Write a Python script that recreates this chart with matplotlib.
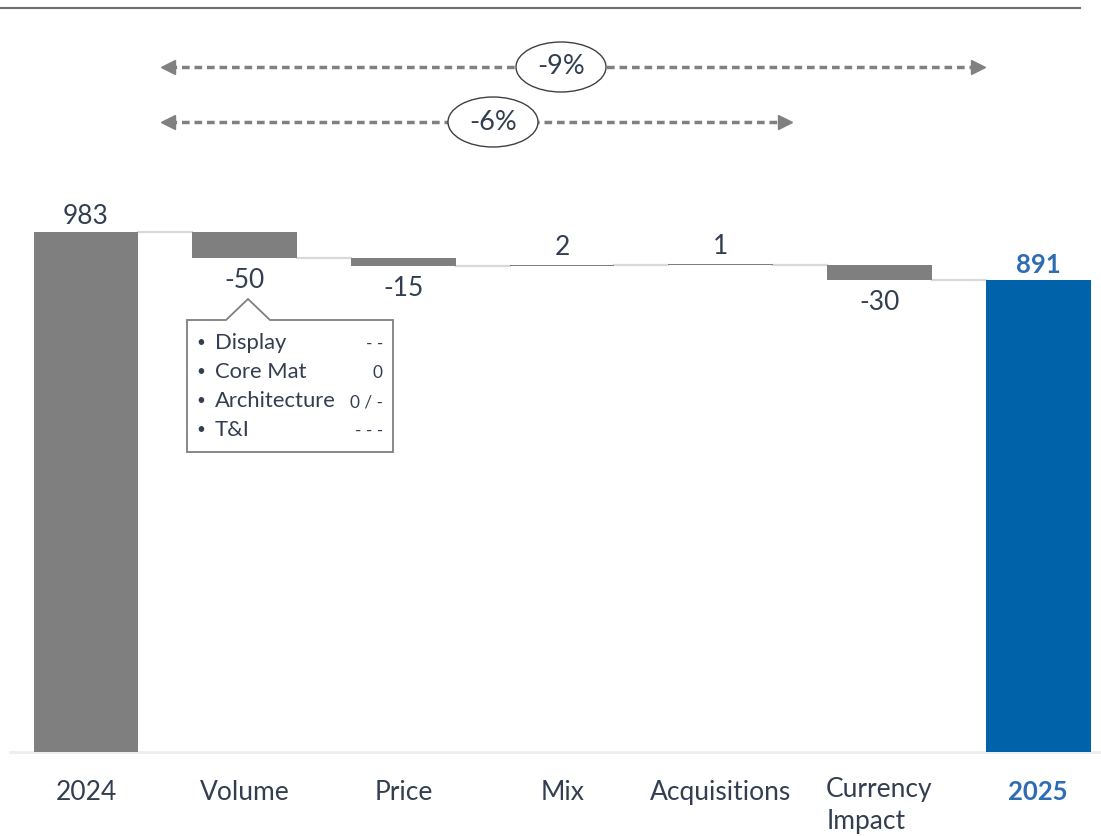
import numpy as np
import matplotlib.pyplot as plt
from matplotlib.patches import Ellipse, Polygon

# data
categories = ['2024', 'Volume', 'Price', 'Mix', 'Acquisitions', 'Currency\nImpact', '2025']
deltas = [983, -50, -15, 2, 1, -30]
labels = ['983', '-50', '-15', '2', '1', '-30', '891']
growth_labels = ['-9%', '-6%']
callout_items = ['Display', 'Core Mat', 'Architecture', 'T&I']
callout_values = ['- -', '0', '0 / -', '- - -']

GREY = '#7F7F7F'
BLUE = '#0063A9'
TXT = '#333F50'
plt.rcParams['font.family'] = ['Lato', 'DejaVu Sans']

W, H = 1101, 836
fig = plt.figure(figsize=(W / 100, H / 100), dpi=100)
ax = fig.add_axes([0, 0, 1, 1])
ax.set_xlim(-0.542, 6.396)
ax.set_ylim(-158.8, 1421)
ax.axis('off')


def px(x, y):
    # pixel position -> figure fraction
    return x / W, 1 - y / H


# waterfall bars
total = deltas[0]
bottoms, heights, colors = [0], [deltas[0]], [GREY]
for d in deltas[1:]:
    new = total + d
    bottoms.append(min(total, new))
    heights.append(max(abs(d), 1.5))
    colors.append(GREY)
    total = new
bottoms.append(0)
heights.append(total)
colors.append(BLUE)

x = np.arange(len(categories))
bw = 0.66
ax.bar(x, heights, bottom=bottoms, width=bw, color=colors, zorder=3)

# connectors
running = np.cumsum(deltas)
for i, r in enumerate(running):
    ax.plot([x[i] + bw / 2, x[i + 1] - bw / 2], [r, r], color='#D9D9D9', lw=1.6, zorder=2)

# baseline
ax.plot([-0.48, 6.4], [0, 0], color='#EEEEEE', lw=2, zorder=1)

# value labels
for i, lab in enumerate(labels):
    if i == 0 or i == len(labels) - 1:
        y = heights[i] + 29
    elif deltas[i] < 0:
        y = bottoms[i] - 42
    else:
        y = bottoms[i] + heights[i] + 33
    if i == len(labels) - 1:
        ax.text(x[i], y, lab, ha='center', va='center', fontsize=18.5, color='#2E6DB4',
                fontweight='bold')
    else:
        ax.text(x[i], y, lab, ha='center', va='center', fontsize=19, color=TXT)

# category labels
for i, c in enumerate(categories):
    if i == len(categories) - 1:
        ax.text(x[i], -76, c, ha='center', va='center', fontsize=18.5, color='#2E6DB4',
                fontweight='bold')
    elif '\n' in c:
        ax.text(x[i], -101, c, ha='center', va='center', multialignment='left',
                fontsize=19, color=TXT, linespacing=1.35)
    else:
        ax.text(x[i], -76, c, ha='center', va='center', fontsize=19, color=TXT)

# top rule
fig.add_artist(plt.Line2D([0, 1080 / W], [1 - 8 / H] * 2, color='#6F6F6F', lw=1.5))

# growth arrows
arrows = [(163, 983, 67, 561), (163, 790, 122, 493)]
for (x0, x1, yy, cx), g in zip(arrows, growth_labels):
    xa, ya = px(x0 + 6, yy)
    xb, _ = px(x1 - 6, yy)
    fig.add_artist(plt.Line2D([xa, xb], [ya, ya], color='#808080', lw=2.5,
                              dashes=(2.2, 1.4)))
    fig.add_artist(plt.Line2D([px(x0 + 5, yy)[0]], [ya], marker='<', color='#808080',
                              markersize=10, lw=0))
    fig.add_artist(plt.Line2D([px(x1 - 5, yy)[0]], [ya], marker='>', color='#808080',
                              markersize=10, lw=0))
    ex, ey = px(cx, yy)
    fig.add_artist(Ellipse((ex, ey), 90 / W, 50 / H, transform=fig.transFigure,
                           facecolor='white', edgecolor='#404040', lw=1.0, zorder=5))
    fig.text(ex, ey, g, ha='center', va='center', fontsize=19.5, color=TXT, zorder=6)

# callout box
pts = [(187, 320), (226, 320), (248, 299), (270, 320), (393, 320), (393, 452), (187, 452)]
fig.add_artist(Polygon([px(a, b) for a, b in pts], closed=True, transform=fig.transFigure,
                       facecolor='white', edgecolor='#7F7F7F', lw=1.3, zorder=5))
for k, (item, val) in enumerate(zip(callout_items, callout_values)):
    yy = 343 + k * 29
    fig.text(*px(196, yy), '\u2022', ha='left', va='center', fontsize=11, color=TXT, zorder=6)
    fig.text(*px(215, yy), item, ha='left', va='center', fontsize=15.8, color=TXT, zorder=6)
    fig.text(*px(383, yy + 1), val, ha='right', va='center', fontsize=12.4, color=TXT, zorder=6)

fig.savefig('out.png', dpi=100, facecolor='white')
